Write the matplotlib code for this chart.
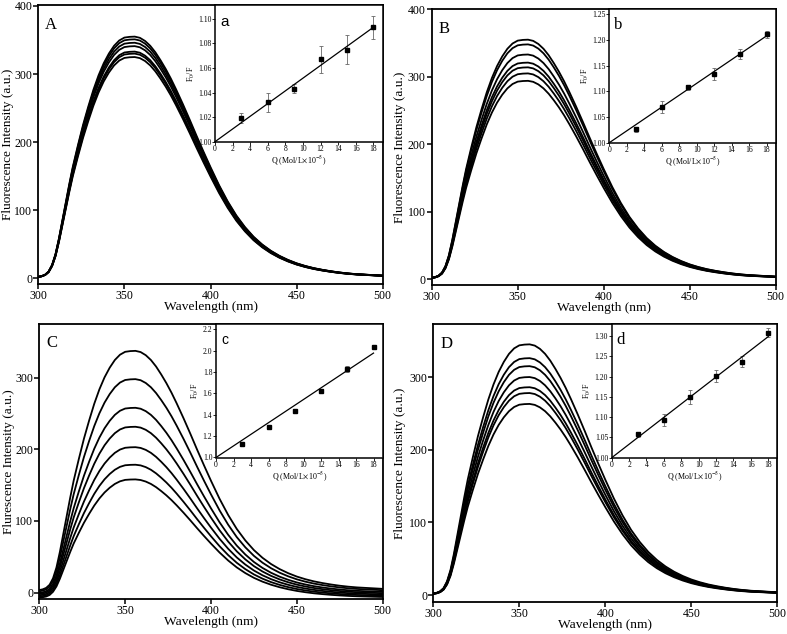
import numpy as np
import matplotlib.pyplot as plt

plt.rcParams['font.family'] = ['Liberation Serif', 'DejaVu Serif']
plt.rcParams['mathtext.fontset'] = 'stix'

# --- spectra: shared normalised emission profile ---
wavelength = [300, 302, 304, 306, 308, 310, 312, 314, 316, 318, 320, 323, 326,
              329, 332, 335, 338, 341, 344, 347, 350, 353, 356, 359, 362, 365,
              368, 371, 374, 377, 380, 384, 388, 392, 396, 400, 405, 410, 415,
              420, 425, 430, 435, 440, 445, 450, 455, 460, 465, 470, 475, 480,
              485, 490, 495, 500]
profile = [0.006, 0.009, 0.015, 0.028, 0.055, 0.10, 0.165, 0.24, 0.315, 0.39,
           0.46, 0.55, 0.635, 0.71, 0.78, 0.84, 0.89, 0.93, 0.962, 0.984,
           0.996, 0.999, 1.0, 0.995, 0.982, 0.962, 0.935, 0.902, 0.866, 0.826,
           0.782, 0.72, 0.655, 0.588, 0.523, 0.46, 0.385, 0.318, 0.26, 0.212,
           0.172, 0.14, 0.114, 0.093, 0.076, 0.062, 0.051, 0.042, 0.035, 0.029,
           0.024, 0.02, 0.017, 0.015, 0.013, 0.011]

# peak heights of the seven curves in each panel
peaks_A = [355, 351, 346, 341, 333, 330, 325]
peaks_B = [355, 348, 333, 321, 314, 305, 294]
peaks_C = [336, 298, 260, 235, 208, 185, 166]
peaks_D = [345, 326, 315, 300, 286, 278, 263]
# baseline shift of the curves in panel C
offset_C = [1.5, 0, -2, -3.5, -5, -6.5, -8]

# --- Stern-Volmer insets ---
Q = [3, 6, 9, 12, 15, 18]
ratio_a = [1.019, 1.032, 1.043, 1.067, 1.075, 1.093]
err_a = [0.004, 0.0077, 0.0037, 0.011, 0.012, 0.0095]
ratio_b = [1.026, 1.070, 1.108, 1.134, 1.173, 1.211]
err_b = [0.005, 0.012, 0.005, 0.012, 0.009, 0.0065]
ratio_c = [1.123, 1.289, 1.436, 1.623, 1.826, 2.033]
err_c = [0.02, 0.015, 0.01, 0.01, 0.03, 0.01]
ratio_d = [1.058, 1.093, 1.150, 1.201, 1.237, 1.308]
err_d = [0.0066, 0.015, 0.017, 0.015, 0.014, 0.011]

W, H = 787, 634
fig = plt.figure(figsize=(W / 100, H / 100), dpi=100)


def box(left, top, right, bottom):
    return [left / W, 1 - bottom / H, (right - left) / W, (bottom - top) / H]


def main_panel(rect, peaks, offsets, ylim, yticks, letter, ylabel, label_x):
    ax = fig.add_axes(rect)
    prof = np.array(profile)
    for p, off in zip(peaks, offsets):
        ax.plot(wavelength, prof * p + off, color='black', lw=1.3)
    ax.set_xlim(300, 500)
    ax.set_ylim(*ylim)
    ax.set_xticks([300, 350, 400, 450, 500])
    ax.set_yticks(yticks)
    ax.tick_params(direction='out', length=3.5, width=1.1, labelsize=8.6)
    ax.tick_params(axis='x', pad=0.5)
    ax.tick_params(axis='y', pad=0.8)
    for s in ax.spines.values():
        s.set_linewidth(1.3)
    ax.set_xlabel('Wavelength (nm)', fontsize=9.7, labelpad=-0.5)
    ax.set_ylabel(ylabel, fontsize=9.5)
    ax.yaxis.set_label_coords(label_x, 0.5)
    ax.text(0.02, 0.915, letter, transform=ax.transAxes, fontsize=12)
    return ax


def inset(rect, ratio, err, ylim, yticks, yfmt, letter, lfont, lsize):
    ax = fig.add_axes(rect)
    ax.errorbar(Q, ratio, yerr=err, fmt='s', ms=2.5, color='black',
                ecolor='#666666', elinewidth=0.6, capsize=1.3, capthick=0.6)
    q = np.array(Q, dtype=float)
    k = np.sum(q * (np.array(ratio) - 1)) / np.sum(q * q)
    ax.plot([0, 18], [1, 1 + 18 * k], color='black', lw=0.9)
    ax.set_xlim(0, 19.05)
    ax.set_ylim(*ylim)
    ax.set_xticks(range(0, 19, 2))
    ax.set_yticks(yticks)
    ax.set_yticklabels([yfmt.format(v) for v in yticks])
    ax.tick_params(direction='out', length=2, width=0.6, labelsize=5.5, pad=0.6)
    for s in ax.spines.values():
        s.set_linewidth(1.1)
    ax.set_xlabel(r'Q (Mol/L$\times$10$^{-5}$)', fontsize=5.8, labelpad=0)
    ax.set_ylabel(r'F$_0$/F', fontsize=5.8, labelpad=1)
    ax.text(0.03, 0.85, letter, transform=ax.transAxes, fontsize=lsize, family=lfont)
    return ax


zero = [0] * 7
main_panel(box(38.3, 5.3, 382.7, 284), peaks_A, zero, (-8.4, 401),
           [0, 100, 200, 300, 400], 'A', 'Fluorescence Intensity (a.u.)', -0.071)
main_panel(box(431.7, 9.3, 775.7, 285.3), peaks_B, zero, (-9, 400),
           [0, 100, 200, 300, 400], 'B', 'Fluorescence Intensity (a.u.)', -0.076)
main_panel(box(39.3, 324, 382.7, 599.3), peaks_C, offset_C, (-9.4, 375),
           [0, 100, 200, 300], 'C', 'Flurescence Intensity (a.u.)', -0.071)
main_panel(box(433.3, 324, 777.3, 602), peaks_D, zero, (-9.6, 373),
           [0, 100, 200, 300], 'D', 'Fluorescence Intensity (a.u.)', -0.079)

inset(box(215, 5.3, 382.7, 141.7), ratio_a, err_a, (1.0, 1.111),
      [1.00, 1.02, 1.04, 1.06, 1.08, 1.10], '{:.2f}', 'a', 'Liberation Sans', 11)
inset(box(609.3, 9.3, 775.7, 142.7), ratio_b, err_b, (1.0, 1.26),
      [1.00, 1.05, 1.10, 1.15, 1.20, 1.25], '{:.2f}', 'b', 'Liberation Serif', 12)
inset(box(216, 324, 382.7, 457.5), ratio_c, err_c, (1.0, 2.25),
      [1.0, 1.2, 1.4, 1.6, 1.8, 2.0, 2.2], '{:.1f}', 'c', 'Liberation Sans', 10)
inset(box(611.7, 324, 777.3, 457.7), ratio_d, err_d, (1.0, 1.33),
      [1.00, 1.05, 1.10, 1.15, 1.20, 1.25, 1.30], '{:.2f}', 'd', 'Liberation Serif', 12)

fig.savefig('out.png', dpi=100)
